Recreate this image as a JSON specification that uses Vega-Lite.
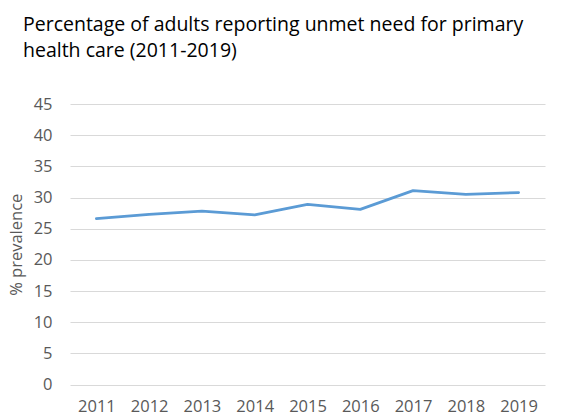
{
  "$schema": "https://vega.github.io/schema/vega-lite/v6.json",
  "autosize": {"type": "none"},
  "width": 475,
  "height": 280.5,
  "padding": {"left": 70, "top": 104, "right": 22, "bottom": 31.5},
  "background": "white",
  "title": {
    "text": ["Percentage of adults reporting unmet need for primary", "health care (2011-2019)"],
    "anchor": "start",
    "frame": "group",
    "dx": -47,
    "offset": 34,
    "font": "Open Sans",
    "fontSize": 19.5,
    "fontWeight": "normal",
    "lineHeight": 26.6,
    "color": "#000000"
  },
  "data": {
    "values": [
      {"year": "2011", "value": 26.6},
      {"year": "2012", "value": 27.3},
      {"year": "2013", "value": 27.8},
      {"year": "2014", "value": 27.2},
      {"year": "2015", "value": 28.9},
      {"year": "2016", "value": 28.1},
      {"year": "2017", "value": 31.1},
      {"year": "2018", "value": 30.5},
      {"year": "2019", "value": 30.8}
    ]
  },
  "mark": {"type": "line", "color": "#5B9BD5", "strokeWidth": 2.75, "strokeJoin": "round", "strokeCap": "round"},
  "encoding": {
    "x": {
      "field": "year",
      "type": "ordinal",
      "scale": {"type": "point", "padding": 0.5},
      "axis": {
        "title": null,
        "labelAngle": 0,
        "domain": false,
        "ticks": false,
        "grid": false,
        "labelPadding": 14,
        "labelFont": "Open Sans",
        "labelFontSize": 16.5,
        "labelColor": "#595959"
      }
    },
    "y": {
      "field": "value",
      "type": "quantitative",
      "scale": {"domain": [0, 45], "nice": false},
      "axis": {
        "title": "% prevalence",
        "titleFont": "Open Sans",
        "titleFontSize": 16.5,
        "titleFontWeight": "normal",
        "titleColor": "#595959",
        "titlePadding": 9,
        "values": [0, 5, 10, 15, 20, 25, 30, 35, 40, 45],
        "domain": false,
        "ticks": false,
        "labelPadding": 18,
        "labelFont": "Open Sans",
        "labelFontSize": 16.5,
        "labelColor": "#595959",
        "gridColor": "#D9D9D9",
        "gridWidth": 1
      }
    }
  },
  "config": {"view": {"stroke": null}}
}
